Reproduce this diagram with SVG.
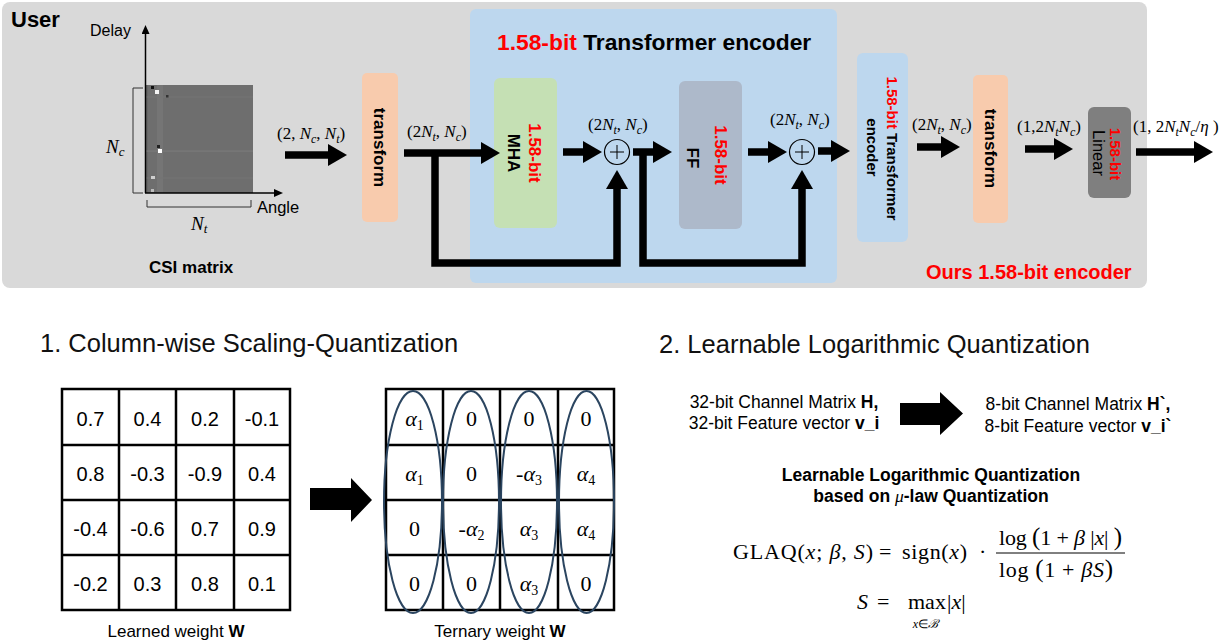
<svg xmlns="http://www.w3.org/2000/svg" width="1226" height="643" viewBox="0 0 1226 643">
<defs>
<style>
.sans{font-family:"Liberation Sans",Arial,sans-serif}
.serif{font-family:"Liberation Serif","Times New Roman",serif}
.b{font-weight:bold}
.i{font-style:italic}
.red{fill:#ff0000}
.conn{fill:none;stroke:#000;stroke-width:7.5;marker-end:url(#ah)}
.axis{fill:none;stroke:#000;stroke-width:1.5;marker-end:url(#sh)}
.brk{fill:none;stroke:#333;stroke-width:1}
.grid{fill:none;stroke:#000;stroke-width:2.5}
.ell{fill:none;stroke:#2b4560;stroke-width:2}
.lbl{font-size:17px}
.sub{font-size:12px;font-style:italic}
.cell{font-size:20px;text-anchor:middle}
.tcell{font-size:22px;text-anchor:middle}
.vt{font-size:17px;font-weight:bold;text-anchor:middle}
.blk{fill:#000}
</style>
<marker id="ah" markerUnits="userSpaceOnUse" markerWidth="21" markerHeight="22" refX="1" refY="11" orient="auto"><path d="M0,0 L19,11 L0,22 z" fill="#000"/></marker>
<marker id="sh" markerUnits="userSpaceOnUse" markerWidth="10" markerHeight="8" refX="1" refY="4" orient="auto"><path d="M0,0 L9,4 L0,8 z" fill="#000"/></marker>
</defs>

<g id="background"><rect x="2" y="2" width="1145" height="286" rx="8" fill="#d9d9d9"/></g>
<g id="user-label"><text x="11" y="27" class="sans b" font-size="22">User</text></g>

<g id="csi-matrix">
<rect x="146" y="85" width="107" height="108" fill="#6e6e6e"/>
<rect x="157" y="85" width="6" height="108" fill="#757575"/>
<rect x="146" y="85" width="2" height="108" fill="#666"/>
<rect x="146" y="96.5" width="107" height="1" fill="#747474"/>
<rect x="146" y="150.5" width="107" height="1.2" fill="#7a7a7a"/>
<rect x="146" y="177.5" width="107" height="1" fill="#747474"/>
<rect x="151" y="86" width="3" height="3" fill="#111"/>
<rect x="155" y="90" width="4" height="4" fill="#f4f4f4"/>
<rect x="166" y="95" width="2.5" height="2.5" fill="#333"/>
<rect x="157" y="145" width="3" height="3" fill="#222"/>
<rect x="158" y="149" width="4" height="4" fill="#ffffff"/>
<rect x="151" y="176" width="4" height="3" fill="#cfcfcf"/>
<rect x="151" y="189" width="3" height="3" fill="#bbb"/>
<path class="axis" d="M145.5,193 V33"/>
<path class="axis" d="M145,193 H275"/>
<path class="brk" d="M143,88 H133 V193 H143"/>
<path class="brk" d="M147,200 V207 H251 V200"/>
<text x="90" y="36" class="sans" font-size="16">Delay</text>
<text x="257" y="213" class="sans" font-size="16.5">Angle</text>
<text x="106" y="153" class="serif i" font-size="19">N<tspan font-size="13" dy="3">c</tspan></text>
<text x="191" y="230" class="serif i" font-size="19">N<tspan font-size="13" dy="3">t</tspan></text>
<text x="149" y="273" class="sans b" font-size="17">CSI matrix</text>
</g>

<g id="transformer-encoder">
<rect x="470" y="9" width="367" height="274" rx="6" fill="#bdd7ee"/>
<text x="497" y="50" class="sans b" font-size="22.8"><tspan class="red">1.58-bit</tspan> Transformer encoder</text>
</g>

<g id="transform1">
<rect x="362" y="73" width="36" height="149" rx="5" fill="#f8cbad"/>
<text class="sans vt" transform="translate(374,147.5) rotate(90)">transform</text>
</g>

<g id="mha">
<rect x="494" y="78" width="63" height="150" rx="6" fill="#c5e0b4"/>
<text class="sans vt red" transform="translate(529,153) rotate(90)">1.58-bit</text>
<text class="sans vt" transform="translate(508,153) rotate(90)">MHA</text>
</g>

<g id="ff">
<rect x="679" y="81" width="63" height="148" rx="6" fill="#adb9ca"/>
<text class="sans vt red" transform="translate(715,155) rotate(90)">1.58-bit</text>
<text class="sans vt" transform="translate(687,158) rotate(90)">FF</text>
</g>

<g id="add1">
<circle cx="617" cy="152" r="12.5" fill="none" stroke="#000" stroke-width="1.2"/>
<path d="M610,152 H624 M617,145 V159" stroke="#000" stroke-width="1"/>
</g>
<g id="add2">
<circle cx="802" cy="152" r="12.5" fill="none" stroke="#000" stroke-width="1.2"/>
<path d="M795,152 H809 M802,145 V159" stroke="#000" stroke-width="1"/>
</g>

<g id="encoder2">
<rect x="857" y="53" width="51" height="189" rx="6" fill="#bdd7ee"/>
<text class="sans b" font-size="15" text-anchor="middle" transform="translate(887,148.5) rotate(90)"><tspan class="red">1.58-bit</tspan> Transformer</text>
<text class="sans b" font-size="15" text-anchor="middle" transform="translate(867,147.5) rotate(90)">encoder</text>
</g>

<g id="transform2">
<rect x="973" y="75" width="35" height="148" rx="5" fill="#f8cbad"/>
<text class="sans vt" transform="translate(984.5,148.5) rotate(90)">transform</text>
</g>

<g id="linear">
<rect x="1088" y="107" width="43" height="91" rx="6" fill="#7f7f7f"/>
<text class="sans b red" font-size="15" text-anchor="middle" transform="translate(1110,154) rotate(90)">1.58-bit</text>
<text class="sans" font-size="16.5" text-anchor="middle" transform="translate(1093,153) rotate(90)">Linear</text>
</g>

<g id="connectors">
<path class="conn" d="M285,155 H329"/>
<path class="conn" d="M404,153 H482"/>
<path class="conn" d="M435,153 V263 H617 V188"/>
<path class="conn" d="M563,152 H584"/>
<path class="conn" d="M633,152 H654"/>
<path class="conn" d="M643,152 V263 H802 V188"/>
<path class="conn" d="M748,152 H769"/>
<path class="conn" d="M818,151 H832"/>
<path class="conn" d="M917,147 H942"/>
<path class="conn" d="M1025,149 H1055"/>
<path class="conn" d="M1136,152 H1195"/>
</g>

<g id="dim-labels" class="serif lbl">
<text x="277" y="139">(2, <tspan class="i">N</tspan><tspan class="sub" dy="4">c</tspan><tspan dy="-4">, </tspan><tspan class="i">N</tspan><tspan class="sub" dy="4">t</tspan><tspan dy="-4">)</tspan></text>
<text x="407" y="137">(2<tspan class="i">N</tspan><tspan class="sub" dy="4">t</tspan><tspan dy="-4">, </tspan><tspan class="i">N</tspan><tspan class="sub" dy="4">c</tspan><tspan dy="-4">)</tspan></text>
<text x="588" y="130">(2<tspan class="i">N</tspan><tspan class="sub" dy="4">t</tspan><tspan dy="-4">, </tspan><tspan class="i">N</tspan><tspan class="sub" dy="4">c</tspan><tspan dy="-4">)</tspan></text>
<text x="770" y="125">(2<tspan class="i">N</tspan><tspan class="sub" dy="4">t</tspan><tspan dy="-4">, </tspan><tspan class="i">N</tspan><tspan class="sub" dy="4">c</tspan><tspan dy="-4">)</tspan></text>
<text x="912" y="130">(2<tspan class="i">N</tspan><tspan class="sub" dy="4">t</tspan><tspan dy="-4">, </tspan><tspan class="i">N</tspan><tspan class="sub" dy="4">c</tspan><tspan dy="-4">)</tspan></text>
<text x="1017" y="132">(1,2<tspan class="i">N</tspan><tspan class="sub" dy="4">t</tspan><tspan class="i" dy="-4">N</tspan><tspan class="sub" dy="4">c</tspan><tspan dy="-4">)</tspan></text>
<text x="1133" y="132">(1, 2<tspan class="i">N</tspan><tspan class="sub" dy="4">t</tspan><tspan class="i" dy="-4">N</tspan><tspan class="sub" dy="4">c</tspan><tspan dy="-4">/</tspan><tspan class="i">η</tspan> )</text>
</g>

<g id="ours-label"><text x="926" y="279" class="sans b red" font-size="20">Ours 1.58-bit encoder</text></g>

<g id="section1">
<text x="40" y="352" class="sans" font-size="25.5" fill="#111">1. Column-wise Scaling-Quantization</text>
<g id="learned-weight" class="sans">
<rect class="grid" x="62" y="389" width="228" height="221"/>
<path class="grid" d="M119,389 V610 M176,389 V610 M234,389 V610 M62,445 H290 M62,500 H290 M62,555 H290"/>
<text class="cell" x="90.5" y="425.5">0.7</text><text class="cell" x="147.5" y="425.5">0.4</text><text class="cell" x="205" y="425.5">0.2</text><text class="cell" x="262" y="425.5">-0.1</text>
<text class="cell" x="90.5" y="481">0.8</text><text class="cell" x="147.5" y="481">-0.3</text><text class="cell" x="205" y="481">-0.9</text><text class="cell" x="262" y="481">0.4</text>
<text class="cell" x="90.5" y="536">-0.4</text><text class="cell" x="147.5" y="536">-0.6</text><text class="cell" x="205" y="536">0.7</text><text class="cell" x="262" y="536">0.9</text>
<text class="cell" x="90.5" y="591">-0.2</text><text class="cell" x="147.5" y="591">0.3</text><text class="cell" x="205" y="591">0.8</text><text class="cell" x="262" y="591">0.1</text>
<text x="176" y="637" font-size="17" text-anchor="middle">Learned weight <tspan class="b">W</tspan></text>
</g>
<g id="arrow-quant"><path class="blk" d="M310,488 H351 V478 L372,500 L351,522 V510 H310 Z"/></g>
<g id="ternary-weight" class="serif">
<rect class="grid" x="386" y="389" width="228" height="221"/>
<path class="grid" d="M443,389 V610 M500,389 V610 M558,389 V610 M386,445 H614 M386,500 H614 M386,555 H614"/>
<text class="tcell" x="414.5" y="426"><tspan class="i">α</tspan><tspan font-size="14" dy="4">1</tspan></text>
<text class="tcell" x="471.5" y="426">0</text><text class="tcell" x="529" y="426">0</text><text class="tcell" x="586" y="426">0</text>
<text class="tcell" x="414.5" y="481"><tspan class="i">α</tspan><tspan font-size="14" dy="4">1</tspan></text>
<text class="tcell" x="471.5" y="481">0</text>
<text class="tcell" x="529" y="481">-<tspan class="i">α</tspan><tspan font-size="14" dy="4">3</tspan></text>
<text class="tcell" x="586" y="481"><tspan class="i">α</tspan><tspan font-size="14" dy="4">4</tspan></text>
<text class="tcell" x="414.5" y="536">0</text>
<text class="tcell" x="471.5" y="536">-<tspan class="i">α</tspan><tspan font-size="14" dy="4">2</tspan></text>
<text class="tcell" x="529" y="536"><tspan class="i">α</tspan><tspan font-size="14" dy="4">3</tspan></text>
<text class="tcell" x="586" y="536"><tspan class="i">α</tspan><tspan font-size="14" dy="4">4</tspan></text>
<text class="tcell" x="414.5" y="591">0</text><text class="tcell" x="471.5" y="591">0</text>
<text class="tcell" x="529" y="591"><tspan class="i">α</tspan><tspan font-size="14" dy="4">3</tspan></text>
<text class="tcell" x="586" y="591">0</text>
<ellipse class="ell" cx="413" cy="502" rx="29" ry="111"/>
<ellipse class="ell" cx="471" cy="502" rx="28" ry="111"/>
<ellipse class="ell" cx="529" cy="502" rx="28" ry="111"/>
<ellipse class="ell" cx="586.5" cy="502" rx="27.5" ry="111"/>
<text x="500" y="637" font-size="17" text-anchor="middle" class="sans">Ternary weight <tspan class="b">W</tspan></text>
</g>
</g>

<g id="section2">
<text x="659" y="353" class="sans" font-size="25.5" fill="#111">2. Learnable Logarithmic Quantization</text>
<g id="input-desc" class="sans" font-size="17.5" text-anchor="middle">
<text x="784" y="408">32-bit Channel Matrix <tspan class="b">H,</tspan></text>
<text x="784" y="429">32-bit Feature vector <tspan class="b">v_i</tspan></text>
</g>
<g id="arrow-llq"><path class="blk" d="M900,403 H940 V392 L963,413.5 L940,435 V425 H900 Z"/></g>
<g id="output-desc" class="sans" font-size="17.5" text-anchor="middle">
<text x="1078" y="410">8-bit Channel Matrix <tspan class="b">H`,</tspan></text>
<text x="1078" y="432">8-bit Feature vector <tspan class="b">v_i`</tspan></text>
</g>
<g id="llq-title" class="sans b" font-size="17.5" text-anchor="middle">
<text x="931" y="481">Learnable Logarithmic Quantization</text>
<text x="931" y="502">based on <tspan class="serif i" font-weight="normal">μ</tspan>-law Quantization</text>
</g>
<g id="formula" class="serif" font-size="22">
<text x="733" y="559" textLength="140" lengthAdjust="spacing">GLAQ(<tspan class="i">x</tspan>; <tspan class="i">β</tspan>, <tspan class="i">S</tspan>)</text>
<text x="879" y="559">=</text>
<text x="902" y="559" textLength="65" lengthAdjust="spacing">sign(<tspan class="i">x</tspan>)</text>
<text x="979" y="559">·</text>
<line x1="996" y1="553" x2="1125" y2="553" stroke="#000" stroke-width="1"/>
<text x="999" y="545" textLength="123" lengthAdjust="spacing">log <tspan font-size="25">(</tspan>1 + <tspan class="i">β</tspan> |<tspan class="i">x</tspan>| <tspan font-size="25">)</tspan></text>
<text x="999" y="577" textLength="114" lengthAdjust="spacing">log <tspan font-size="25">(</tspan>1 + <tspan class="i">βS</tspan><tspan font-size="25">)</tspan></text>
<text x="857" y="609" class="i">S</text>
<text x="877" y="609">=</text>
<text x="908" y="609">max</text>
<text x="947" y="609">|<tspan class="i">x</tspan>|</text>
<text x="925.5" y="628" font-size="12" text-anchor="middle"><tspan class="i">x</tspan>∈<tspan class="i">ℬ</tspan></text>
</g>
</g>
</svg>
